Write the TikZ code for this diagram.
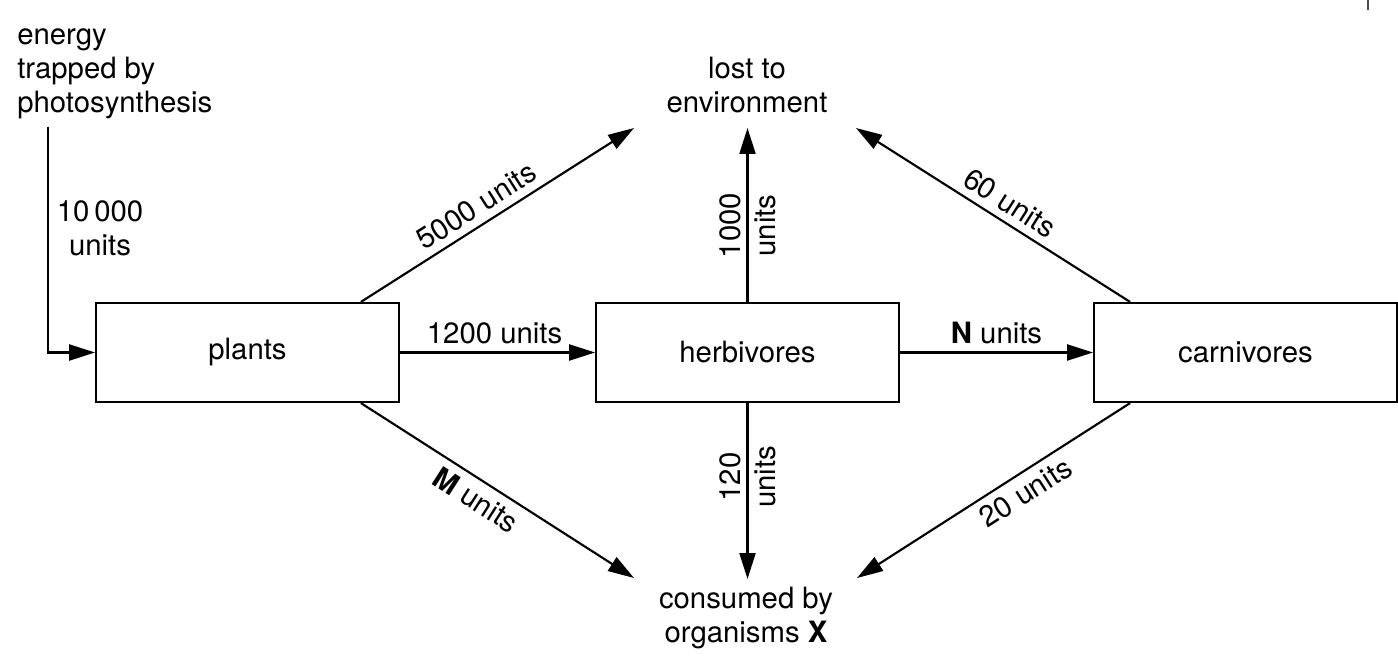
\documentclass[tikz,border=0pt]{standalone}
\usepackage{fontspec}
\setmainfont{TeX Gyre Heros}
\usetikzlibrary{arrows.meta,calc}
\begin{document}
\begin{tikzpicture}[x=0.75pt,y=-0.75pt,
  every node/.style={font=\fontsize{22}{25.5}\selectfont},
  box/.style={draw,line width=1.6pt,minimum width=227pt,minimum height=74.25pt,inner sep=0pt},
  arr/.style={line width=1.6pt,-{Triangle[length=19.5pt,width=12pt]}},
  lbl/.style={inner sep=5.5pt},
  vlbl/.style={inner sep=4.5pt,rotate=90}]
\useasboundingbox (0,0) rectangle (1398,663);
% boxes
\node[box] (plants) at (247.5,352.5) {plants};
\node[box] (herb) at (747.5,352.5) {herbivores};
\node[box] (carn) at (1245.5,352.5) {carnivores};
% texts
\node[align=left,anchor=base west,inner sep=0pt] (src) at (17,113) {energy\\trapped by\\photosynthesis};
\node[align=center,anchor=base,inner sep=0pt] (lost) at (747,113) {lost to\\environment};
\node[align=center,anchor=base,inner sep=0pt] (cons) at (746,642) {consumed by\\organisms \textbf{X}};
% connector end points
\coordinate (inTop) at (48,127);
\coordinate (lostA) at (634,128);
\coordinate (lostB) at (747.5,128);
\coordinate (lostC) at (856,128);
\coordinate (consA) at (634,578);
\coordinate (consB) at (747.5,579);
\coordinate (consC) at (857,578);
% input
\draw[arr] (inTop) |- (plants.west);
\node[align=center,anchor=base,inner sep=0pt] (lin) at (100,255) {10\,000\\units};
% horizontal
\draw[arr] (plants.east) -- (herb.west) node[lbl,pos=0.485,above] {1200 units};
\draw[arr] (herb.east) -- (carn.west) node[lbl,pos=0.5,above] {\textbf{N} units};
% to lost
\draw[arr] ($(plants.north east)+(-39,0)$) -- (lostA) node[lbl,pos=0.46,sloped,above] {5000 units};
\draw[arr] (herb.north) -- (lostB)
  node[vlbl,pos=0.44,anchor=south] {1000}
  node[vlbl,pos=0.44,anchor=north] {units};
\draw[arr] ($(carn.north west)+(37,0)$) -- (lostC) node[lbl,pos=0.476,sloped,above] {60 units};
% to consumed
\draw[arr] ($(plants.south east)+(-39,0)$) -- (consA) node[lbl,pos=0.46,sloped,below] {\textbf{M} units};
\draw[arr] (herb.south) -- (consB)
  node[vlbl,pos=0.42,anchor=south] {120}
  node[vlbl,pos=0.42,anchor=north] {units};
\draw[arr] ($(carn.south west)+(37,0)$) -- (consC) node[lbl,pos=0.42,sloped,below] {20 units};
% page mark
\draw[gray!60!black,line width=1pt] (1368,0) -- (1368,10);
\end{tikzpicture}
\end{document}
